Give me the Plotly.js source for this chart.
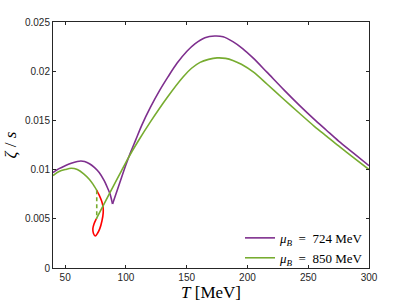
<!DOCTYPE html>
<html>
<head>
<meta charset="utf-8">
<script src="https://cdn.plot.ly/plotly-3.0.1.min.js"></script>
<style>html,body{margin:0;padding:0;background:#fff;}#chart{width:407px;height:305px;}</style>
</head>
<body>
<div id="chart"></div>
<script>
// mu_B = 724 MeV (purple), branch before the cusp
const purpleT1 = [40, 45, 50, 55, 60, 63, 66, 70, 74, 78, 82, 85, 87, 89];
const purpleV1 = [0.0097, 0.0101, 0.0104, 0.01065, 0.01083, 0.01088, 0.01082, 0.0106, 0.01022, 0.0097, 0.0089, 0.0081, 0.0075, 0.0065];
// mu_B = 724 MeV, branch after the cusp
const purpleT2 = [89, 95, 100, 104, 108, 113, 120, 128, 135, 142, 150, 157, 165, 173, 180, 188, 196, 205, 216, 230, 243, 255, 265, 275, 287, 300];
const purpleV2 = [0.0065, 0.0087, 0.0105, 0.0118, 0.0130, 0.0145, 0.0163, 0.0181, 0.0195, 0.0208, 0.0220, 0.0228, 0.0234, 0.02358, 0.0235, 0.0230, 0.0223, 0.0213, 0.0199, 0.0181, 0.0165, 0.0151, 0.0140, 0.0129, 0.0117, 0.0104];
// mu_B = 850 MeV (green), low-T stable branch
const greenT1 = [40, 45, 50, 55, 60, 65, 70, 73, 76];
const greenV1 = [0.0094, 0.0098, 0.0100, 0.01013, 0.0100, 0.0096, 0.0090, 0.0085, 0.0079];
// mu_B = 850 MeV, high-T stable branch
const greenT2 = [75.6, 82.8, 90, 96, 102, 110, 120, 133.5, 147, 154, 161, 168, 175, 182, 188, 195, 205, 216, 228, 243, 255, 265, 275, 287, 300];
const greenV2 = [0.0050, 0.0067, 0.0084, 0.0098, 0.0112, 0.01288, 0.01483, 0.01726, 0.01942, 0.0203, 0.0209, 0.0212, 0.02135, 0.0213, 0.0211, 0.0207, 0.0199, 0.0187, 0.01735, 0.0157, 0.0144, 0.0134, 0.0124, 0.01125, 0.0100];
// jump (dashed) for mu_B = 850 MeV
const jumpT = [76, 76];
const jumpV = [0.0079, 0.0050];
// unstable branch (red)
const redT = [76.0, 78.0, 80.0, 81.2, 81.3, 80.3, 78.5, 76.5, 74.8, 73.3, 72.8, 73.8, 75.6];
const redV = [0.0079, 0.0074, 0.0068, 0.0062, 0.0056, 0.0048, 0.0040, 0.0035, 0.00325, 0.0035, 0.0040, 0.0045, 0.0050];

const xTicks = [50, 100, 150, 200, 250, 300];
const yTicks = [0, 0.005, 0.01, 0.015, 0.02, 0.025];
const yTickText = ['0', '0.005', '0.01', '0.015', '0.02', '0.025'];
const legendNames = ['<i>μ</i><sub><i>B</i></sub>\u2002=\u2002724 MeV', '<i>μ</i><sub><i>B</i></sub>\u2002=\u2002850 MeV'];

const purple = '#7E2F8E';
const green = '#77AC30';
const red = '#FF0000';
const sm = 0.8;

const traces = [
  {x: redT, y: redV, mode: 'lines', line: {color: red, width: 1.6, shape: 'spline', smoothing: sm}, showlegend: false},
  {x: jumpT, y: jumpV, mode: 'lines', line: {color: green, width: 1.6, dash: '4px,3px'}, showlegend: false},
  {x: purpleT1, y: purpleV1, mode: 'lines', line: {color: purple, width: 1.6, shape: 'spline', smoothing: sm}, name: legendNames[0], legendgroup: 'p'},
  {x: purpleT2, y: purpleV2, mode: 'lines', line: {color: purple, width: 1.6, shape: 'spline', smoothing: sm}, showlegend: false, legendgroup: 'p'},
  {x: greenT1, y: greenV1, mode: 'lines', line: {color: green, width: 1.6, shape: 'spline', smoothing: sm}, name: legendNames[1], legendgroup: 'g'},
  {x: greenT2, y: greenV2, mode: 'lines', line: {color: green, width: 1.6, shape: 'spline', smoothing: sm}, showlegend: false, legendgroup: 'g'}
];

const axisCommon = {
  showgrid: false, zeroline: false, showline: true, linecolor: '#262626', linewidth: 1,
  mirror: 'ticks', ticks: 'inside', ticklen: 3, tickcolor: '#262626',
  tickfont: {family: 'Liberation Sans, Arial, sans-serif', size: 10, color: '#262626'}
};

const layout = {
  width: 407, height: 305,
  margin: {l: 53, r: 38, t: 22, b: 37},
  paper_bgcolor: '#fff', plot_bgcolor: '#fff',
  xaxis: Object.assign({}, axisCommon, {
    range: [40, 300], tickvals: xTicks,
    title: {text: '<i>T</i> [MeV]', font: {family: 'Liberation Serif, DejaVu Serif, serif', size: 17, color: '#000'}, standoff: 2}
  }),
  yaxis: Object.assign({}, axisCommon, {
    range: [0, 0.025], tickvals: yTicks, ticktext: yTickText,
    title: {text: '<i>ζ</i> / <i>s</i>', font: {family: 'Liberation Serif, DejaVu Serif, serif', size: 17, color: '#000'}, standoff: 4}
  }),
  legend: {
    x: 1.0, xanchor: 'right', y: -0.02, yanchor: 'bottom',
    bgcolor: 'rgba(255,255,255,0)', borderwidth: 0,
    font: {family: 'Liberation Serif, DejaVu Serif, serif', size: 13, color: '#000'},
    itemwidth: 30, tracegroupgap: 0
  },
  showlegend: true
};

Plotly.newPlot('chart', traces, layout, {displayModeBar: false, staticPlot: true});
</script>
</body>
</html>
